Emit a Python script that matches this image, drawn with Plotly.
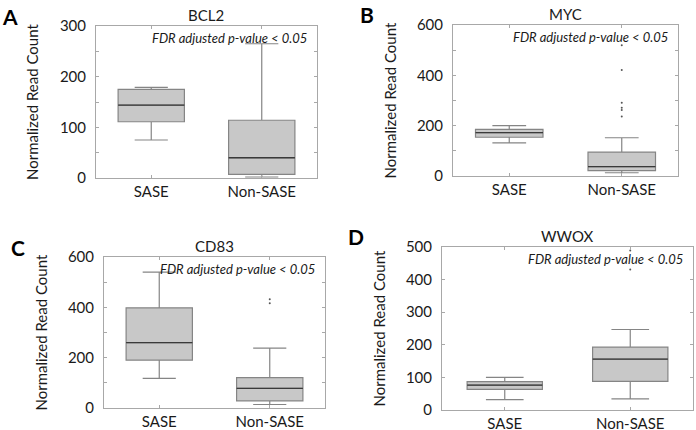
import plotly.graph_objs as go

# ---- data
groups = ["SASE", "Non-SASE"]
genes = ["BCL2", "MYC", "CD83", "WWOX"]
letters = ["A", "B", "C", "D"]

lowerfence = {"BCL2": [75, 2], "MYC": [132, 13], "CD83": [118, 14], "WWOX": [32, 34]}
q1 = {"BCL2": [111, 7], "MYC": [154, 21], "CD83": [190, 28], "WWOX": [63, 88]}
median = {"BCL2": [144, 40], "MYC": [172, 37], "CD83": [260, 78], "WWOX": [76, 156]}
q3 = {"BCL2": [175, 114], "MYC": [185, 95], "CD83": [398, 121], "WWOX": [87, 193]}
upperfence = {"BCL2": [179, 265], "MYC": [200, 152], "CD83": [540, 238], "WWOX": [100, 247]}
outliers = {"BCL2": [], "MYC": [236, 262, 271, 291, 421, 520], "CD83": [416, 432], "WWOX": [431, 489]}

yranges = {"BCL2": [0, 300], "MYC": [0, 600], "CD83": [0, 600], "WWOX": [0, 500]}
ydtick = {"BCL2": 100, "MYC": 200, "CD83": 200, "WWOX": 100}
yminor = {"BCL2": 50, "MYC": 100, "CD83": 100, "WWOX": 100}

W, H = 696, 430
# plot frames in pixels: left, right, top, bottom
frames = {"BCL2": (96, 317, 26, 178), "MYC": (453, 678, 25, 176),
          "CD83": (104, 325, 257, 408), "WWOX": (442, 693, 247, 410)}

FONT = "Lato"
LINE = "#858585"
MEDIAN = "#3a3a3a"
FRAME = "#a8a8a8"
FILL = "#c8c8c8"

fig = go.Figure()
annotations = []
layout = dict(width=W, height=H, boxmode="overlay",
              margin=dict(l=0, r=0, t=0, b=0, pad=0, autoexpand=False),
              paper_bgcolor="white", plot_bgcolor="white", showlegend=False,
              font=dict(family=FONT, color="#1a1a1a", size=15))


def note(text, px, py, size, **kw):
    d = dict(text=text, x=px / W, y=1 - py / H, xref="paper", yref="paper",
             xanchor="center", yanchor="middle", showarrow=False,
             font=dict(size=size))
    d.update(kw)
    return d


for i, g in enumerate(genes):
    n = "" if i == 0 else str(i + 1)
    xa, ya = "x" + n, "y" + n
    fig.add_trace(go.Box(
        x=groups, q1=q1[g], median=median[g], q3=q3[g],
        lowerfence=lowerfence[g], upperfence=upperfence[g],
        boxpoints=False, width=0.6, whiskerwidth=0.5,
        fillcolor=FILL, line=dict(color=LINE, width=1.2),
        xaxis=xa, yaxis=ya, hoverinfo="skip"))
    # darker median line drawn as a flat box on top
    fig.add_trace(go.Box(
        x=groups, q1=median[g], median=median[g], q3=median[g],
        lowerfence=median[g], upperfence=median[g],
        boxpoints=False, width=0.6, whiskerwidth=0,
        fillcolor="rgba(0,0,0,0)", line=dict(color=MEDIAN, width=1.3),
        xaxis=xa, yaxis=ya, hoverinfo="skip"))
    if outliers[g]:
        fig.add_trace(go.Scatter(
            x=["Non-SASE"] * len(outliers[g]), y=outliers[g], mode="markers",
            marker=dict(size=2, color="#555"), xaxis=xa, yaxis=ya,
            hoverinfo="skip"))

    l, r, t, b = frames[g]
    layout["xaxis" + n] = dict(
        domain=[l / W, r / W], anchor=ya, range=[-0.5, 1.5],
        categoryorder="array", categoryarray=groups, automargin=False,
        showline=True, linecolor=FRAME, linewidth=1, mirror="ticks",
        ticks="inside", ticklen=3, tickcolor=FRAME, showgrid=False,
        zeroline=False, tickfont=dict(size=15), ticklabelstandoff=0)
    layout["yaxis" + n] = dict(
        domain=[1 - b / H, 1 - t / H], anchor=xa, range=yranges[g],
        dtick=ydtick[g], showline=True, linecolor=FRAME, linewidth=1,
        mirror="ticks", ticks="inside", ticklen=3, tickcolor=FRAME,
        minor=dict(dtick=yminor[g], ticks="inside", ticklen=3, tickcolor=FRAME),
        showgrid=False, zeroline=False, tickfont=dict(size=15),
        ticklabelstandoff=6, automargin=False)

    # panel title, letter, y title, significance note
    annotations.append(note(g, (l + r) / 2, t - 11, 15))
    annotations.append(note("<b>%s</b>" % letters[i], l - 86, t - 10, 21,
                            font=dict(size=21, color="black")))
    annotations.append(note("Normalized Read Count", l - 64, (t + b) / 2, 15,
                            textangle=-90))
    annotations.append(note("<i>FDR adjusted p-value < 0.05</i>", r - 8, t + 12,
                            13, xanchor="right"))

layout["annotations"] = annotations
fig.update_layout(**layout)
fig.write_html("out.html", config={"displayModeBar": False},
               post_script="document.body.style.margin='0px';")
